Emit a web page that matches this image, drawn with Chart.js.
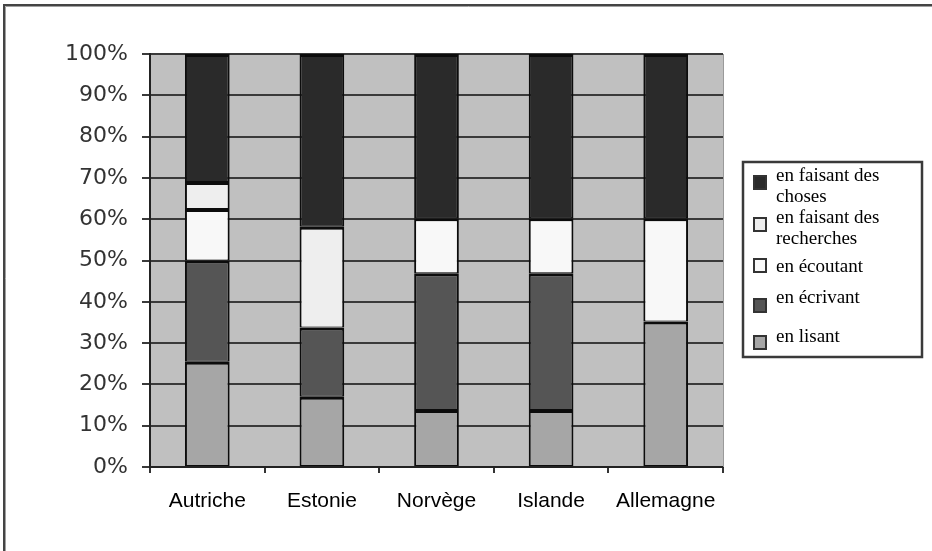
<!DOCTYPE html>
<html>
<head>
<meta charset="utf-8">
<script src="https://cdn.jsdelivr.net/npm/chart.js@4/dist/chart.umd.min.js"></script>
<style>
  html, body { margin: 0; padding: 0; background: #ffffff; }
  #wrap { position: relative; width: 932px; height: 551px; }
</style>
</head>
<body>
<div id="wrap"><canvas id="c" width="932" height="551"></canvas></div>
<script>
// Countries along the x axis
const countries = ['Autriche', 'Estonie', 'Norvège', 'Islande', 'Allemagne'];

// Share of each activity per country (%), stacked bottom to top
const lisant     = [25.5, 17.0, 13.8, 13.8, 35.2];
const ecrivant   = [24.5, 16.8, 33.1, 33.1, null];
const ecoutant   = [12.5, null, 13.3, 13.3, 25.0];
const recherches = [6.5,  24.4, null, null, null];
const choses     = [31.0, 41.8, 39.8, 39.8, 39.8];

// Series names (same order as the stack, bottom first)
const seriesNames = ['en lisant', 'en écrivant', 'en écoutant', 'en faisant des recherches', 'en faisant des choses'];
const seriesData = [lisant, ecrivant, ecoutant, recherches, choses];
const seriesColors = ['#a6a6a6', '#555555', '#f8f8f8', '#eeeeee', '#2a2a2a'];

// Y axis ticks
const yTicks = [0, 10, 20, 30, 40, 50, 60, 70, 80, 90, 100];

const datasets = seriesData.map((d, i) => ({
  label: seriesNames[i],
  data: d,
  backgroundColor: seriesColors[i],
  borderColor: '#0c0c0c',
  borderWidth: { top: 3, bottom: 1, left: 2, right: 2 },
  borderSkipped: false,
  barPercentage: 0.39,
  categoryPercentage: 1.0
}));

// Grey plot background, right frame line and outer page border
const backdrop = {
  id: 'backdrop',
  beforeDraw(chart) {
    const { ctx, chartArea: a } = chart;
    ctx.save();
    ctx.fillStyle = '#c0c0c0';
    ctx.fillRect(a.left, a.top, a.right - a.left, a.bottom - a.top);
    ctx.restore();
  },
  afterDraw(chart) {
    const { ctx, chartArea: a } = chart;
    ctx.save();
    ctx.strokeStyle = '#9a9a9a';
    ctx.lineWidth = 1;
    ctx.beginPath();
    ctx.moveTo(a.right + 0.5, a.top);
    ctx.lineTo(a.right + 0.5, a.bottom);
    ctx.stroke();
    // outer frame (top and left edges)
    ctx.strokeStyle = '#444444';
    ctx.lineWidth = 2;
    ctx.beginPath();
    ctx.moveTo(4, 551);
    ctx.lineTo(4, 5);
    ctx.lineTo(932, 5);
    ctx.stroke();
    ctx.strokeStyle = '#a0a0a0';
    ctx.lineWidth = 1;
    ctx.beginPath();
    ctx.moveTo(5.5, 551);
    ctx.lineTo(5.5, 6.5);
    ctx.lineTo(932, 6.5);
    ctx.stroke();
    ctx.restore();
  }
};

// Boxed legend on the right, top entry = top of the stack
const boxLegend = {
  id: 'boxLegend',
  afterDraw(chart) {
    const { ctx } = chart;
    const box = { x: 743, y: 162, w: 179, h: 195 };
    const squareY = [175, 217, 258, 298, 335];
    const textY = [181, 223, 272, 303, 342];
    const lineH = 21;
    ctx.save();
    ctx.fillStyle = '#ffffff';
    ctx.fillRect(box.x, box.y, box.w, box.h);
    ctx.strokeStyle = '#3a3a3a';
    ctx.lineWidth = 2.5;
    ctx.strokeRect(box.x, box.y, box.w, box.h);
    ctx.font = '19px "Liberation Serif", "Times New Roman", serif';
    ctx.textBaseline = 'alphabetic';
    const items = chart.data.datasets.slice().reverse();
    items.forEach((ds, i) => {
      // swatch
      ctx.fillStyle = ds.backgroundColor;
      ctx.fillRect(754, squareY[i] + 1, 12, 13);
      ctx.strokeStyle = '#333333';
      ctx.lineWidth = 2;
      ctx.strokeRect(754, squareY[i] + 1, 12, 13);
      // wrapped label
      ctx.fillStyle = '#000000';
      const words = ds.label.split(' ');
      const lines = [];
      let cur = '';
      words.forEach(w => {
        const test = cur ? cur + ' ' + w : w;
        if (ctx.measureText(test).width > 140 && cur) { lines.push(cur); cur = w; }
        else cur = test;
      });
      lines.push(cur);
      lines.forEach((ln, k) => ctx.fillText(ln, 776, textY[i] + k * lineH));
    });
    ctx.restore();
  }
};

new Chart(document.getElementById('c'), {
  type: 'bar',
  data: { labels: countries, datasets },
  options: {
    responsive: false,
    animation: false,
    layout: { padding: { left: 0, right: 209, top: 54, bottom: 0 } },
    plugins: { legend: { display: false }, tooltip: { enabled: false } },
    scales: {
      x: {
        stacked: true,
        offset: true,
        grid: { offset: true, drawOnChartArea: false, drawTicks: true, tickLength: 6, color: '#333333', lineWidth: 2 },
        border: { color: '#222222', width: 2 },
        ticks: { color: '#000000', padding: 16, maxRotation: 0,
                 font: { family: '"Liberation Sans", Arial, sans-serif', size: 21 } },
        afterFit(s) { s.height = 84; s.paddingLeft = 0; s.paddingRight = 0; }
      },
      y: {
        stacked: true,
        min: 0,
        max: 100,
        afterBuildTicks(s) { s.ticks = yTicks.map(v => ({ value: v })); },
        grid: { color: '#3a3a3a', lineWidth: 2, tickLength: 8 },
        border: { color: '#222222', width: 2 },
        ticks: { color: '#333333', padding: 14, callback: v => v + '%',
                 font: { family: '"DejaVu Sans", Verdana, sans-serif', size: 22 } },
        afterFit(s) { s.width = 150; s.paddingTop = 0; s.paddingBottom = 0; }
      }
    }
  },
  plugins: [backdrop, boxLegend]
});
</script>
</body>
</html>
